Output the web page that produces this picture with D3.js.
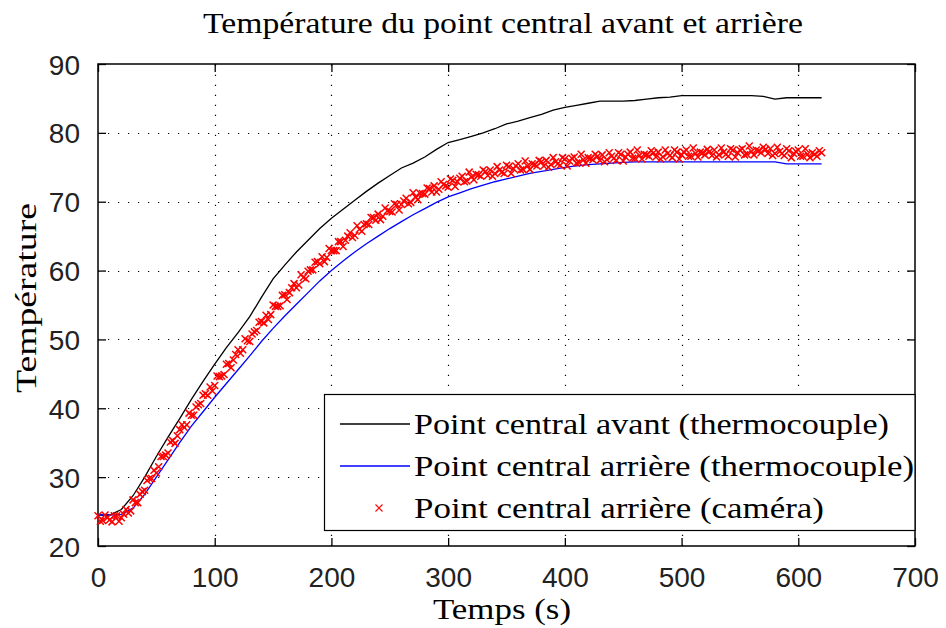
<!DOCTYPE html>
<html><head><meta charset="utf-8">
<script src="https://cdn.jsdelivr.net/npm/d3@7"></script>
<style>body{margin:0;background:#fff}</style>
</head><body>
<svg id="c" width="946" height="628" xmlns="http://www.w3.org/2000/svg"></svg>
<script>
const titleText = "Température du point central avant et arrière";
const xLabelText = "Temps (s)";
const yLabelText = "Température";
const seriesNames = ["Point central avant (thermocouple)", "Point central arrière (thermocouple)", "Point central arrière (caméra)"];
const xTicks = [0, 100, 200, 300, 400, 500, 600, 700];
const yTicks = [20, 30, 40, 50, 60, 70, 80, 90];

const lineTimes = d3.range(0, 621, 10);
const avant = [24.5,24.5,25.3,27.3,30.0,33.0,35.8,38.5,41.3,43.9,46.4,48.8,51.0,53.3,56.1,58.8,60.8,62.7,64.4,66.1,
  67.6,68.9,70.2,71.5,72.7,73.8,74.9,75.6,76.5,77.6,78.6,79.0,79.5,80.0,80.6,81.3,81.7,82.2,82.7,83.3,
  83.7,84.0,84.3,84.6,84.6,84.6,84.7,84.9,85.1,85.2,85.4,85.4,85.4,85.4,85.4,85.4,85.4,85.3,84.9,85.1,
  85.1,85.1,85.1];
const arriere = [24.5,24.5,24.6,25.5,27.5,30.0,32.5,35.0,37.4,39.5,41.6,43.6,45.6,47.6,49.7,51.6,53.4,55.1,56.8,58.5,
  60.0,61.4,62.7,63.9,65.0,66.1,67.1,68.1,69.0,69.9,70.7,71.3,71.9,72.4,72.9,73.3,73.7,74.1,74.4,74.7,
  75.0,75.2,75.4,75.5,75.6,75.7,75.8,75.8,75.8,75.8,75.8,75.8,75.8,75.8,75.8,75.8,75.8,75.8,75.8,75.5,
  75.5,75.5,75.5];

// camera samples (two interleaved acquisitions)
const cameraTimesA = d3.range(0, 621, 4);
const cameraA = [
  24.4,23.7,24.1,23.5,24.4,24.1,25.3,25.1,26.3,27.5,28.1,29.8,
  31.0,31.5,33.0,33.5,35.3,36.0,37.6,37.6,39.0,40.2,40.7,42.1,
  43.1,43.3,44.6,44.9,46.5,47.0,48.5,48.5,49.8,50.8,51.3,52.6,
  53.5,53.6,54.8,54.9,56.5,56.8,58.1,57.9,59.0,59.9,60.1,61.3,
  62.0,61.9,62.9,62.9,64.2,64.4,65.5,65.1,66.0,66.7,66.7,67.7,
  68.2,67.9,68.7,68.5,69.6,69.6,70.5,69.9,70.7,71.2,71.1,71.9,
  72.3,71.8,72.5,72.1,73.1,72.9,73.7,73.0,73.6,74.0,73.7,74.4,
  74.6,74.1,74.6,74.1,75.1,74.8,75.5,74.7,75.2,75.5,75.2,75.8,
  76.0,75.4,75.8,75.3,76.2,75.9,76.5,75.7,76.1,76.4,76.1,76.6,
  76.8,76.1,76.6,76.0,76.9,76.5,77.2,76.3,76.7,76.9,76.6,77.1,
  77.2,76.5,77.0,76.4,77.2,76.8,77.5,76.6,77.0,77.2,76.8,77.3,
  77.5,76.8,77.2,76.6,77.5,77.1,77.7,76.9,77.3,77.5,77.1,77.6,
  77.7,77.0,77.3,76.7,77.4,77.0,77.5,76.6,76.9,77.1,76.6,77.1];
const cameraTimesB = d3.range(2, 619, 4);
const cameraB = [
  23.6,24.5,23.8,24.4,23.6,24.6,24.8,26.7,26.3,27.9,29.5,29.8,
  30.6,33.0,33.2,35.1,34.9,36.9,37.2,39.3,39.0,40.5,41.9,41.9,
  42.5,44.7,44.7,46.4,45.9,47.8,48.0,50.1,49.7,51.1,52.5,52.4,
  52.9,55.0,54.8,56.4,55.8,57.5,57.5,59.4,58.8,60.1,61.2,61.0,
  61.3,63.2,62.9,64.2,63.5,65.0,64.8,66.5,65.7,66.8,67.7,67.3,
  67.4,69.1,68.6,69.7,68.8,70.1,69.7,71.3,70.3,71.2,72.0,71.4,
  71.4,72.9,72.3,73.3,72.2,73.4,72.9,74.3,73.2,73.9,74.6,73.8,
  73.7,75.1,74.3,75.3,74.1,75.2,74.6,75.9,74.7,75.4,76.0,75.2,
  75.0,76.4,75.5,76.4,75.2,76.3,75.6,76.9,75.6,76.3,76.9,76.0,
  75.8,77.1,76.3,77.1,75.9,76.9,76.3,77.5,76.2,76.8,77.4,76.5,
  76.2,77.5,76.7,77.5,76.2,77.2,76.6,77.8,76.5,77.1,77.6,76.7,
  76.5,77.8,76.9,77.7,76.5,77.5,76.8,78.1,76.8,77.4,77.9,77.0,
  76.7,77.9,77.0,77.7,76.4,77.3,76.6,77.7,76.4,76.9,77.4];

const colors = ["#000000", "#0000ff", "#ff0000"];

const svg = d3.select("#c");
const L = 98, R = 915, T = 64, B = 546;
const x = d3.scaleLinear().domain([0, 700]).range([L, R]);
const y = d3.scaleLinear().domain([20, 90]).range([B, T]);
const serif = "'Liberation Serif', 'Times New Roman', serif";
const sans = "'Liberation Sans', Arial, sans-serif";

svg.append("rect").attr("width", 946).attr("height", 628).attr("fill", "#fff");

// grid
const grid = svg.append("g").attr("stroke", "#000").attr("stroke-width", 1.2).attr("stroke-dasharray", "1.2,8.8");
grid.selectAll(".gx").data(xTicks.slice(1, -1)).join("line")
  .attr("x1", d => Math.round(x(d)) + 0.5).attr("x2", d => Math.round(x(d)) + 0.5)
  .attr("y1", B).attr("y2", T);
grid.selectAll(".gy").data(yTicks.slice(1, -1)).join("line")
  .attr("y1", d => Math.round(y(d)) + 0.5).attr("y2", d => Math.round(y(d)) + 0.5)
  .attr("x1", L).attr("x2", R);

// axes with inward ticks on all sides
const tl = 8;
const axB = svg.append("g").attr("transform", `translate(0,${B})`)
  .call(d3.axisBottom(x).tickValues(xTicks).tickSize(-tl).tickPadding(tl + 8).tickFormat(d3.format("d")));
const axT = svg.append("g").attr("transform", `translate(0,${T})`)
  .call(d3.axisTop(x).tickValues(xTicks).tickSize(-tl).tickFormat(""));
const axL = svg.append("g").attr("transform", `translate(${L},0)`)
  .call(d3.axisLeft(y).tickValues(yTicks).tickSize(-tl).tickPadding(tl + 10).tickFormat(d3.format("d")));
const axR = svg.append("g").attr("transform", `translate(${R},0)`)
  .call(d3.axisRight(y).tickValues(yTicks).tickSize(-tl).tickFormat(""));
[axB, axT, axL, axR].forEach(a => {
  a.select(".domain").remove();
  a.selectAll(".tick line").attr("stroke", "#000").attr("stroke-width", 1.3);
  a.selectAll("text").attr("font-family", sans).attr("font-size", 28).attr("fill", "#222");
});
axB.selectAll("text").attr("dy", "0.9em");
axL.selectAll("text").attr("dy", "0.36em");

svg.append("rect").attr("x", L).attr("y", T).attr("width", R - L).attr("height", B - T)
  .attr("fill", "none").attr("stroke", "#000").attr("stroke-width", 1.5);

// lines
const line = d3.line().x((d, i) => x(lineTimes[i])).y(d => y(d));
svg.append("path").datum(avant).attr("d", line).attr("fill", "none").attr("stroke", colors[0]).attr("stroke-width", 1.3);
svg.append("path").datum(arriere).attr("d", line).attr("fill", "none").attr("stroke", colors[1]).attr("stroke-width", 1.3);

// camera markers
const ms = 3.5;
const xMark = `M${-ms},${-ms}L${ms},${ms}M${-ms},${ms}L${ms},${-ms}`;
const camG = svg.append("g").attr("stroke", colors[2]).attr("stroke-width", 1.5).attr("fill", "none");
camG.selectAll(".a").data(cameraA).join("path")
  .attr("transform", (d, i) => `translate(${x(cameraTimesA[i])},${y(d)})`).attr("d", xMark);
camG.selectAll(".b").data(cameraB).join("path")
  .attr("transform", (d, i) => `translate(${x(cameraTimesB[i])},${y(d)})`).attr("d", xMark);

// legend
const lg = svg.append("g");
lg.append("rect").attr("x", 324.5).attr("y", 394.5).attr("width", R - 324.5).attr("height", 136)
  .attr("fill", "#fff").attr("stroke", "#000").attr("stroke-width", 1.2);
const rowsY = [424, 466, 508];
lg.append("line").attr("x1", 340).attr("x2", 410).attr("y1", rowsY[0]).attr("y2", rowsY[0]).attr("stroke", colors[0]).attr("stroke-width", 1.3);
lg.append("line").attr("x1", 340).attr("x2", 410).attr("y1", rowsY[1]).attr("y2", rowsY[1]).attr("stroke", colors[1]).attr("stroke-width", 1.3);
lg.append("path").attr("transform", `translate(379,${rowsY[2]})`).attr("d", `M-3.5,-3.5L3.5,3.5M-3.5,3.5L3.5,-3.5`)
  .attr("stroke", colors[2]).attr("stroke-width", 1.1);
const legendWidths = [475, 500, 410];
seriesNames.forEach((n, i) => {
  lg.append("text").attr("x", 414).attr("y", rowsY[i] + 10).attr("font-family", serif).attr("font-size", 30)
    .attr("fill", "#000").attr("textLength", legendWidths[i]).attr("lengthAdjust", "spacingAndGlyphs").text(n);
});

// titles
svg.append("text").attr("x", 503).attr("y", 33).attr("text-anchor", "middle").attr("font-family", serif)
  .attr("font-size", 30).attr("textLength", 600).attr("lengthAdjust", "spacingAndGlyphs").text(titleText);
svg.append("text").attr("x", 502).attr("y", 619).attr("text-anchor", "middle").attr("font-family", serif)
  .attr("font-size", 30).attr("textLength", 138).attr("lengthAdjust", "spacingAndGlyphs").text(xLabelText);
svg.append("text").attr("transform", "translate(36,298) rotate(-90)").attr("text-anchor", "middle").attr("font-family", serif)
  .attr("font-size", 30).attr("textLength", 190).attr("lengthAdjust", "spacingAndGlyphs").text(yLabelText);
</script>
</body></html>
